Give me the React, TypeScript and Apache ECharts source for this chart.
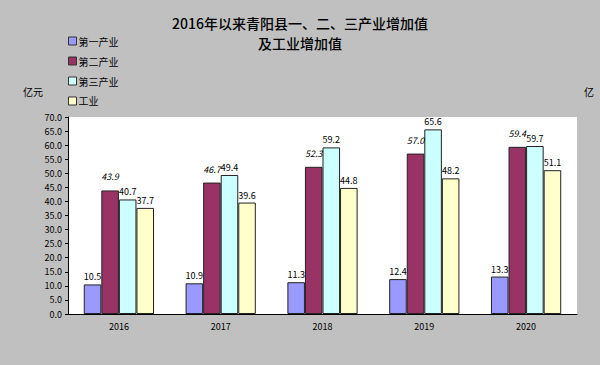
import React, { useEffect, useRef } from "react";
import * as echarts from "echarts";

const years = ["2016", "2017", "2018", "2019", "2020"];
const primary = [10.5, 10.9, 11.3, 12.4, 13.3];
const secondary = [43.9, 46.7, 52.3, 57.0, 59.4];
const tertiary = [40.7, 49.4, 59.2, 65.6, 59.7];
const industry = [37.7, 39.6, 44.8, 48.2, 51.1];
const seriesNames = ["第一产业", "第二产业", "第三产业", "工业"];
const colors = ["#9999ff", "#993366", "#ccffff", "#ffffcc"];

const FONT = "'Noto Sans CJK SC', 'DejaVu Sans', sans-serif";

export default function App() {
  const ref = useRef<HTMLDivElement>(null);
  useEffect(() => {
    if (!ref.current) return;
    const chart = echarts.init(ref.current, null, { renderer: "svg" });
    const data = [primary, secondary, tertiary, industry];
    const label = (i: number) => ({
      show: true,
      position: "top",
      fontSize: 9,
      color: "#000",
      fontFamily: FONT,
      fontStyle: i === 1 ? "italic" : "normal",
      distance: i === 1 ? 9 : 3,
      formatter: (p: any) => Number(p.value).toFixed(1),
    });
    chart.setOption({
      animation: false,
      backgroundColor: "#c0c0c0",
      textStyle: { fontFamily: FONT },
      title: {
        text: "2016年以来青阳县一、二、三产业增加值\n及工业增加值",
        left: "center",
        top: 8,
        textStyle: { fontSize: 14, fontWeight: 500, color: "#000", lineHeight: 20, fontFamily: FONT },
      },
      legend: {
        orient: "vertical",
        left: 63,
        top: 31,
        itemWidth: 8,
        itemHeight: 8,
        itemGap: 10,
        icon: "rect",
        itemStyle: { borderColor: "#333", borderWidth: 1 },
        textStyle: { fontSize: 10, color: "#000", fontFamily: FONT, padding: [0, 0, 0, -3] },
        data: seriesNames,
      },
      graphic: [
        { type: "text", left: 23, top: 86, style: { text: "亿元", fontSize: 10, fill: "#000", fontFamily: FONT } },
        { type: "text", left: 584, top: 86, style: { text: "亿", fontSize: 10, fill: "#000", fontFamily: FONT } },
      ],
      grid: {
        left: 68,
        right: 23,
        top: 117,
        bottom: 51,
        show: true,
        backgroundColor: "#ffffff",
        borderWidth: 0,
      },
      xAxis: {
        type: "category",
        data: years,
        axisLine: { lineStyle: { color: "#000", width: 1 } },
        axisTick: { inside: true, length: 3, lineStyle: { color: "#000" } },
        axisLabel: { fontSize: 9, color: "#000", margin: 8, fontFamily: FONT },
      },
      yAxis: {
        type: "value",
        min: 0,
        max: 70,
        interval: 5,
        splitLine: { show: false },
        axisLine: { show: true, lineStyle: { color: "#000", width: 1 } },
        axisTick: { show: true, length: 3, lineStyle: { color: "#000" } },
        axisLabel: { fontSize: 9, color: "#000", margin: 6, fontFamily: FONT, formatter: (v: number) => v.toFixed(1) },
      },
      series: seriesNames.map((name, i) => ({
        name,
        type: "bar",
        data: data[i],
        barGap: "0%",
        barCategoryGap: "31%",
        itemStyle: { color: colors[i], borderColor: "#222", borderWidth: 1 },
        label: label(i),
      })),
    });
    return () => chart.dispose();
  }, []);
  return <div ref={ref} style={{ position: "fixed", left: 0, top: 0, width: 600, height: 365 }} />;
}
